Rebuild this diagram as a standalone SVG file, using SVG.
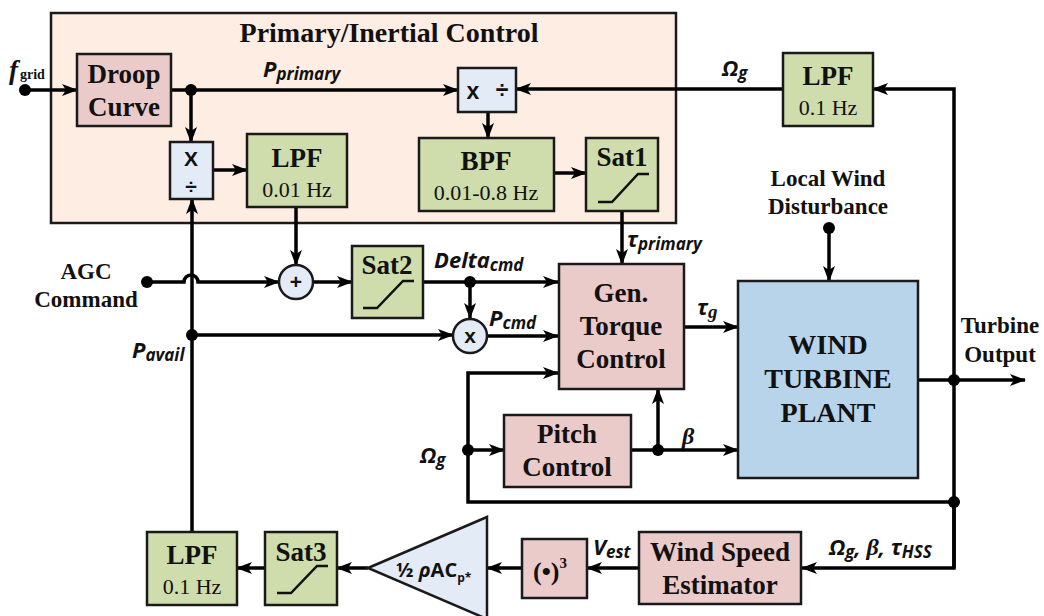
<svg xmlns="http://www.w3.org/2000/svg" width="1044" height="616" viewBox="0 0 1044 616">
<style>
.bx{stroke:#1a1a1a;stroke-width:2.5}
.pink{fill:#EBCACA}
.green{fill:#CEDDAB}
.lblue{fill:#E3EBF7}
.wt{fill:#B8D4EB}
.ln{fill:none;stroke:#000;stroke-width:3.5}
.ar{marker-end:url(#ah)}
.tb{font-family:"Liberation Serif",serif;font-weight:bold;font-size:27px;fill:#111;text-anchor:middle}
.tl{font-family:"Liberation Serif",serif;font-weight:bold;font-size:23px;fill:#111;text-anchor:middle}
.tr{font-family:"Liberation Serif",serif;font-size:22px;fill:#111;text-anchor:middle}
.ms{font-family:"Open Sans","Liberation Sans",sans-serif;font-weight:bold;font-style:italic;font-size:22px;fill:#111}
.sb{font-size:17px}
.op{font-family:"Liberation Sans",sans-serif;font-weight:bold;font-size:21px;fill:#111;text-anchor:middle}
.sat{fill:none;stroke:#111;stroke-width:2.5}
</style>
<defs>
<marker id="ah" viewBox="0 0 16 12" refX="15" refY="6" markerWidth="16" markerHeight="12" markerUnits="userSpaceOnUse" orient="auto">
<path d="M0,0 L16,6 L0,12 L4,6 z" fill="#000"/>
</marker>
</defs>

<g id="primary-group">
<rect x="51" y="13" width="625" height="210" fill="#FDEDE3" class="bx"/>
<text x="389" y="42" class="tb" style="font-size:28px">Primary/Inertial Control</text>
</g>

<g id="connectors">
<line x1="25" y1="90" x2="77" y2="90" class="ln ar"/>
<line x1="171" y1="90" x2="458" y2="90" class="ln ar"/>
<line x1="191" y1="90" x2="191" y2="142" class="ln ar"/>
<line x1="213" y1="170" x2="247" y2="170" class="ln ar"/>
<line x1="296" y1="207" x2="296" y2="265" class="ln ar"/>
<line x1="488" y1="112" x2="488" y2="138" class="ln ar"/>
<line x1="554" y1="173" x2="586" y2="173" class="ln ar"/>
<line x1="622" y1="211" x2="622" y2="264" class="ln ar"/>
<line x1="783" y1="89" x2="516" y2="89" class="ln ar"/>
<polyline points="954,568 954,89 873,89" class="ln ar"/>
<path d="M147,282 L184,282 A7,7 0 0 1 198,282 L279,282" class="ln ar"/>
<line x1="313" y1="282" x2="352" y2="282" class="ln ar"/>
<line x1="423" y1="282" x2="558" y2="282" class="ln ar"/>
<line x1="470" y1="282" x2="470" y2="318" class="ln ar"/>
<line x1="191" y1="335" x2="453" y2="335" class="ln ar"/>
<line x1="487" y1="336" x2="558" y2="336" class="ln ar"/>
<line x1="192" y1="532" x2="192" y2="199" class="ln ar"/>
<line x1="684" y1="327" x2="738" y2="327" class="ln ar"/>
<line x1="829" y1="228" x2="829" y2="281" class="ln ar"/>
<line x1="918" y1="380" x2="1025" y2="380" class="ln ar"/>
<polyline points="954,502 468,502 468,373 558,373" class="ln ar"/>
<line x1="468" y1="450" x2="504" y2="450" class="ln ar"/>
<line x1="631" y1="450" x2="738" y2="450" class="ln ar"/>
<line x1="658" y1="450" x2="658" y2="389" class="ln ar"/>
<polyline points="954,502 954,568 802,568" class="ln ar"/>
<line x1="639" y1="568" x2="587" y2="568" class="ln ar"/>
<line x1="522" y1="568" x2="487" y2="568" class="ln ar"/>
<line x1="368" y1="568" x2="337" y2="568" class="ln ar"/>
<line x1="265" y1="568" x2="237" y2="568" class="ln ar"/>
<circle cx="25" cy="90" r="6"/>
<circle cx="191" cy="90" r="6"/>
<circle cx="147" cy="282" r="6"/>
<circle cx="192" cy="335" r="6"/>
<circle cx="470" cy="282" r="6"/>
<circle cx="829" cy="228" r="6"/>
<circle cx="954" cy="380" r="6"/>
<circle cx="954" cy="502" r="6"/>
<circle cx="468" cy="450" r="6"/>
<circle cx="658" cy="450" r="6"/>
</g>

<g id="droop">
<rect x="77" y="54" width="94" height="72" class="bx pink"/>
<text x="124" y="83" class="tb">Droop</text>
<text x="124" y="116" class="tb">Curve</text>
</g>

<g id="muldiv-v">
<rect x="170" y="142" width="43" height="57" class="bx lblue"/>
<text x="191" y="166" class="op">X</text>
<text x="191" y="194" class="op">÷</text>
</g>

<g id="lpf001">
<rect x="247" y="134" width="100" height="73" class="bx green"/>
<text x="297" y="167" class="tb">LPF</text>
<text x="297" y="197" class="tr">0.01 Hz</text>
</g>

<g id="muldiv-h">
<rect x="458" y="68" width="58" height="44" class="bx lblue"/>
<text x="473" y="99" class="op" style="font-size:23px">x</text>
<text x="502" y="98" class="op" style="font-size:23px">÷</text>
</g>

<g id="bpf">
<rect x="419" y="138" width="135" height="73" class="bx green"/>
<text x="486" y="170" class="tb">BPF</text>
<text x="486" y="200" class="tr">0.01-0.8 Hz</text>
</g>

<g id="sat1">
<rect x="586" y="138" width="72" height="73" class="bx green"/>
<text x="622" y="166" class="tb">Sat1</text>
<polyline points="598,202 612,202 638,174 649,174" class="sat"/>
</g>

<g id="lpf-top">
<rect x="783" y="53" width="90" height="73" class="bx green"/>
<text x="828" y="85" class="tb">LPF</text>
<text x="828" y="115" class="tr">0.1 Hz</text>
</g>

<g id="sum">
<circle cx="296" cy="282" r="17" class="bx lblue"/>
<text x="296" y="289" class="op">+</text>
</g>

<g id="sat2">
<rect x="352" y="246" width="71" height="72" class="bx green"/>
<text x="387" y="274" class="tb">Sat2</text>
<polyline points="363,308 377,308 403,281 414,281" class="sat"/>
</g>

<g id="mult">
<circle cx="470" cy="336" r="17" class="bx lblue"/>
<text x="470" y="343" class="op">x</text>
</g>

<g id="gen-torque">
<rect x="559" y="264" width="125" height="125" class="bx pink"/>
<text x="621" y="302" class="tb">Gen.</text>
<text x="621" y="335" class="tb">Torque</text>
<text x="621" y="368" class="tb">Control</text>
</g>

<g id="pitch">
<rect x="504" y="415" width="127" height="72" class="bx pink"/>
<text x="567" y="443" class="tb">Pitch</text>
<text x="567" y="476" class="tb">Control</text>
</g>

<g id="wtp">
<rect x="738" y="281" width="180" height="197" class="bx wt"/>
<text x="828" y="354" class="tb" style="font-size:28px">WIND</text>
<text x="828" y="388" class="tb" style="font-size:28px">TURBINE</text>
<text x="828" y="422" class="tb" style="font-size:28px">PLANT</text>
</g>

<g id="wse">
<rect x="639" y="532" width="162" height="72" class="bx pink"/>
<text x="720" y="561" class="tb">Wind Speed</text>
<text x="720" y="594" class="tb">Estimator</text>
</g>

<g id="cube">
<rect x="522" y="539" width="65" height="59" class="bx pink"/>
<text x="550" y="580" class="tb" style="font-size:26px">(•)<tspan dy="-12" style="font-size:15px">3</tspan></text>
</g>

<g id="gain">
<polygon points="368,568 487,517 487,619" class="bx lblue"/>
<text x="396" y="577" style="font-family:'Open Sans','Liberation Sans',sans-serif;font-weight:bold;font-size:20px;fill:#111">½ <tspan font-style="italic">ρ</tspan>AC<tspan dy="5" style="font-size:12px">p*</tspan></text>
</g>

<g id="sat3">
<rect x="265" y="532" width="72" height="73" class="bx green"/>
<text x="301" y="561" class="tb">Sat3</text>
<polyline points="277,593 291,593 317,566 328,566" class="sat"/>
</g>

<g id="lpf-bottom">
<rect x="147" y="532" width="90" height="73" class="bx green"/>
<text x="192" y="564" class="tb">LPF</text>
<text x="192" y="594" class="tr">0.1 Hz</text>
</g>

<g id="labels">
<text x="9" y="79" style="font-family:'Liberation Serif',serif;font-weight:bold;font-style:italic;font-size:27px;fill:#111">f<tspan dx="2" style="font-style:normal;font-size:14px">grid</tspan></text>
<text x="263" y="77" class="ms">P<tspan dy="3" class="sb">primary</tspan></text>
<text x="722" y="76" class="ms">Ω<tspan dy="3" class="sb">g</tspan></text>
<text x="86" y="279" class="tl">AGC</text>
<text x="86" y="307" class="tl">Command</text>
<text x="132" y="358" class="ms">P<tspan dy="3" class="sb">avail</tspan></text>
<text x="434" y="268" class="ms">Delta<tspan dy="3" class="sb">cmd</tspan></text>
<text x="489" y="326" class="ms">P<tspan dy="3" class="sb">cmd</tspan></text>
<text x="627" y="247" class="ms">τ<tspan dy="3" class="sb">primary</tspan></text>
<text x="697" y="315" class="ms">τ<tspan dy="3" style="font-family:'Liberation Serif',serif;font-size:19px">g</tspan></text>
<text x="828" y="186" class="tl">Local Wind</text>
<text x="828" y="214" class="tl">Disturbance</text>
<text x="1000" y="333" class="tl">Turbine</text>
<text x="1000" y="362" class="tl">Output</text>
<text x="682" y="444" style="font-family:'Liberation Serif',serif;font-weight:bold;font-style:italic;font-size:24px;fill:#111">β</text>
<text x="420" y="463" class="ms">Ω<tspan dy="3" class="sb">g</tspan></text>
<text x="593" y="555" class="ms">V<tspan dy="3" class="sb">est</tspan></text>
<text x="829" y="555" class="ms">Ω<tspan dy="3" class="sb">g</tspan><tspan dy="-3">, </tspan><tspan style="font-family:'Liberation Serif',serif;font-size:24px">β</tspan>, τ<tspan dy="3" class="sb">HSS</tspan></text>
</g>
</svg>
